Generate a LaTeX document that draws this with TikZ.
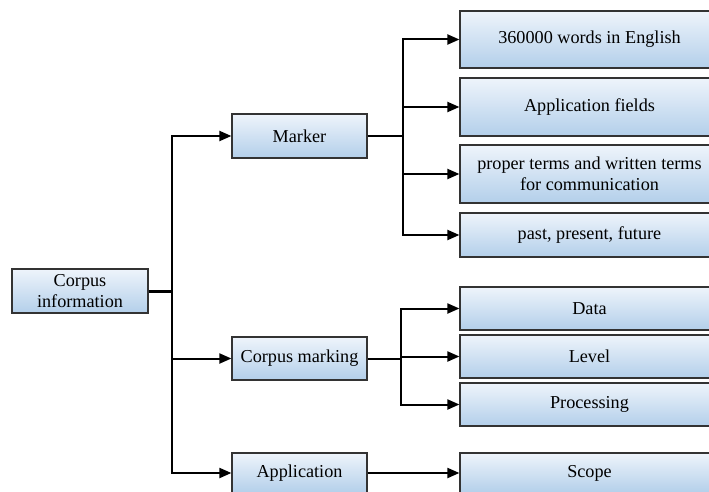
\documentclass[tikz,border=0pt]{standalone}
\usepackage{fontspec}
\setmainfont{Liberation Serif}
\newfontfamily\timesfont{Liberation Serif}
\usetikzlibrary{arrows.meta}
\definecolor{boxtop}{HTML}{EEF4FB}
\definecolor{boxbot}{HTML}{B3CFEA}
\definecolor{boxline}{HTML}{333333}
\begin{document}
\begin{tikzpicture}[x=1pt,y=-1pt,
  box/.style={draw=boxline, line width=1.2pt, top color=boxtop, bottom color=boxbot,
    inner sep=0pt, align=center, font=\timesfont\fontsize{18.2}{21.5}\selectfont},
  conn/.style={line width=2pt, black},
  arr/.style={conn, -{Triangle[length=12pt,width=10pt]}}]
\clip (0,0) rectangle (709,492);
\fill[white] (0,0) rectangle (709,492);
% nodes
\node[box, minimum width=136pt, minimum height=44pt] (ci) at (80,291) {Corpus\\information};
\node[box, minimum width=135pt, minimum height=44pt] (mk) at (299.5,136) {Marker};
\node[box, minimum width=135pt, minimum height=43pt] (cm) at (299.5,358.5) {Corpus marking};
\node[box, minimum width=135pt, minimum height=40pt] (ap) at (299.5,473) {Application};
\node[box, minimum width=259pt, minimum height=57pt] (r1) at (589.5,39.5) {360000 words in English};
\node[box, minimum width=259pt, minimum height=58pt] (r2) at (589.5,107) {Application fields};
\node[box, minimum width=259pt, minimum height=58pt] (r3) at (589.5,174) {proper terms and written terms\\for communication};
\node[box, minimum width=259pt, minimum height=44pt] (r4) at (589.5,235) {past, present, future};
\node[box, minimum width=259pt, minimum height=43pt] (d1) at (589.5,308.5) {Data};
\node[box, minimum width=259pt, minimum height=43pt] (d2) at (589.5,356.5) {Level};
\node[box, minimum width=259pt, minimum height=43pt] (d3) at (589.5,404.5) {Processing};
\node[box, minimum width=259pt, minimum height=40pt] (sc) at (589.5,473) {Scope};
% junctions
\coordinate (j1) at (172,291);
\coordinate (j2) at (403,136);
\coordinate (j3) at (401,358.5);
% connectors
\draw[conn, line width=3pt] (ci.east) -- (j1);
\draw[arr] (j1) |- (mk.west);
\draw[arr] (j1) |- (cm.west);
\draw[arr] (j1) |- (ap.west);
\draw[conn] (mk.east) -- (j2);
\draw[arr] (j2) |- (r1.west);
\draw[arr] (j2) |- (r2.west);
\draw[arr] (j2) |- (r3.west);
\draw[arr] (j2) |- (r4.west);
\draw[conn] (cm.east) -- (j3);
\draw[arr] (j3) |- (d1.west);
\draw[arr] (j3) |- (d2.west);
\draw[arr] (j3) |- (d3.west);
\draw[arr] (ap.east) -- (sc.west);
\end{tikzpicture}
\end{document}
